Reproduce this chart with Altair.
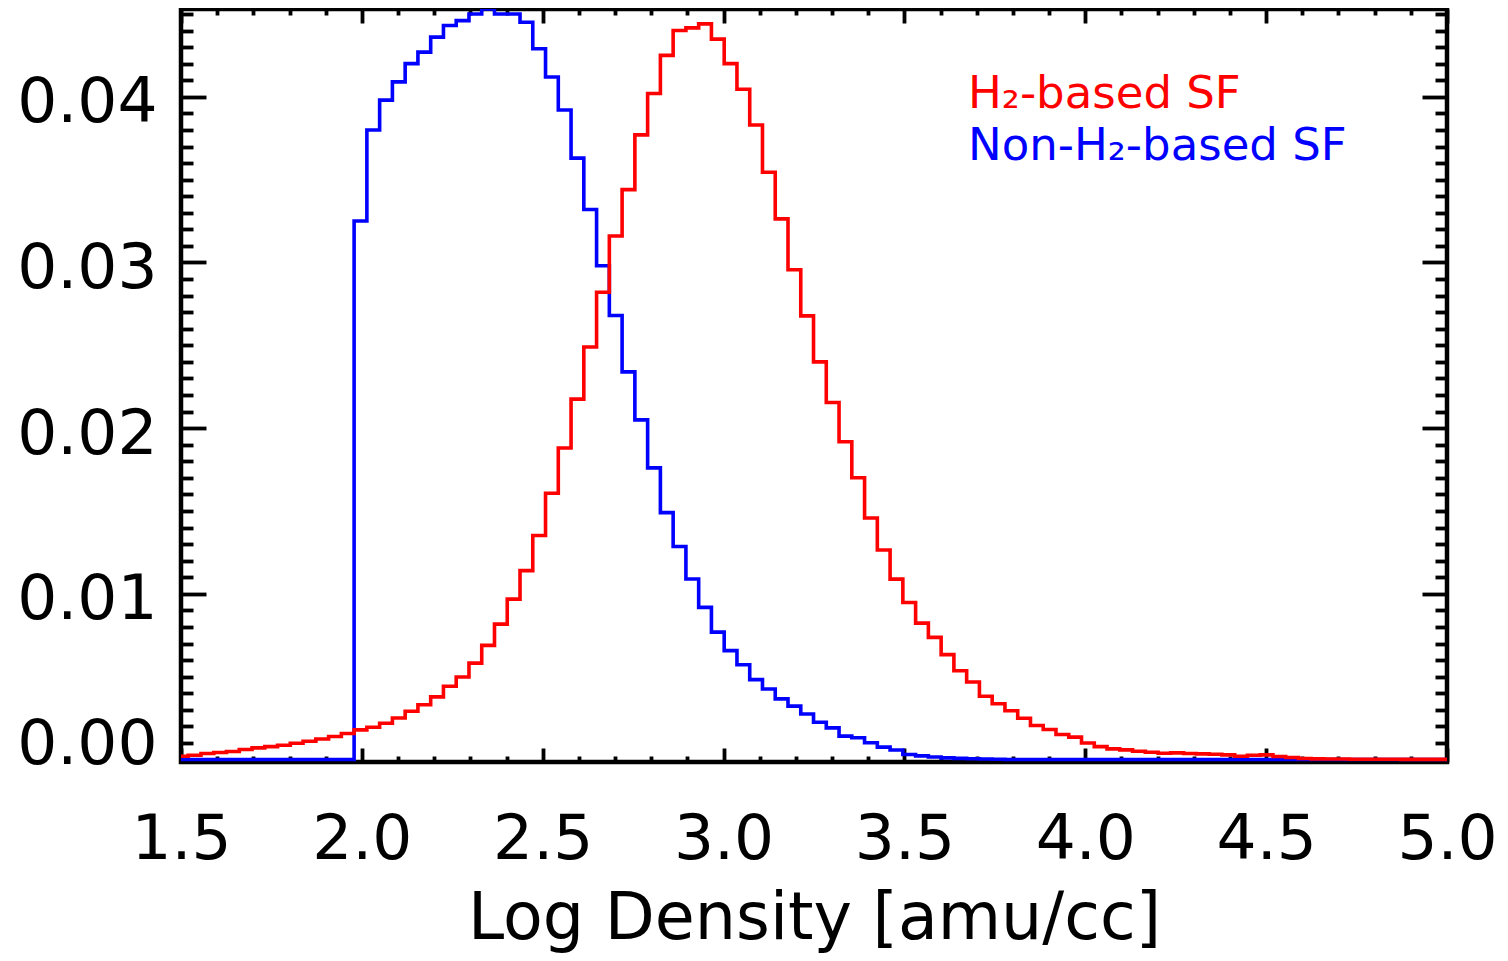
import altair as alt
import pandas as pd

# ---------------- data ----------------
# histogram bin grid (log density)
BIN_START = 1.9786      # left edge of bin index 0
BIN_WIDTH = 0.03528
X_MIN, X_MAX = 1.5, 5.0

# H2-based SF (red), bins k = -14 .. 85
red_first_bin = -14
red_vals = [
    0.00020, 0.00026, 0.00036, 0.00042, 0.00048, 0.00060, 0.00070, 0.00078, 0.00086, 0.00098,
    0.00110, 0.00124, 0.00139, 0.00157,
    0.00179, 0.00195, 0.00219, 0.00251, 0.00291, 0.00331, 0.00378, 0.00442, 0.00498, 0.00582,
    0.00689, 0.00817, 0.00968, 0.01140, 0.01352, 0.01607, 0.01880, 0.02175, 0.02490, 0.02820,
    0.03160, 0.03440, 0.03770, 0.04020, 0.04250, 0.04400, 0.04416, 0.04440, 0.04348, 0.04200,
    0.04046, 0.03830, 0.03545, 0.03263, 0.02956, 0.02678, 0.02400, 0.02155, 0.01918, 0.01701,
    0.01458, 0.01265, 0.01089, 0.00948, 0.00823, 0.00737, 0.00633, 0.00536, 0.00468, 0.00382,
    0.00337, 0.00294, 0.00249, 0.00205, 0.00181, 0.00151, 0.00135, 0.00100, 0.00078, 0.00064,
    0.00058, 0.00050, 0.00044, 0.00038, 0.00040, 0.00036, 0.00034, 0.00032, 0.00028, 0.00020,
    0.00026, 0.00028, 0.00018, 0.00012, 0.00006, 0.00004, 0.00003, 0.00003, 0.00002, 0.00002,
    0.00002, 0.00002, 0.00001, 0.00001, 0.00001, 0.00001,
]

# Non-H2-based SF (blue), bins k = 0 .. 50
blue_vals = [
    0.03250, 0.03800, 0.03980, 0.04090, 0.04200, 0.04270, 0.04360, 0.04430, 0.04460, 0.04500,
    0.04530, 0.04500, 0.04500, 0.04450, 0.04290, 0.04120, 0.03920, 0.03630, 0.03320, 0.02980,
    0.02680, 0.02340, 0.02050, 0.01760, 0.01490, 0.01286, 0.01090, 0.00918, 0.00769, 0.00657,
    0.00572, 0.00482, 0.00426, 0.00366, 0.00322, 0.00275, 0.00225, 0.00191, 0.00141, 0.00131,
    0.00101, 0.00075, 0.00057, 0.00030, 0.00022, 0.00015, 0.00010, 0.00007, 0.00005, 0.00003,
    0.00002,
]

legend_labels = ["H\u2082-based SF", "Non-H\u2082-based SF"]
series_colors = ["#FF0000", "#0000FF"]

x_major = [1.5, 2.0, 2.5, 3.0, 3.5, 4.0, 4.5, 5.0]
x_minor = [round(1.5 + 0.1 * i, 2) for i in range(36) if i % 5 != 0]
y_major = [0.00, 0.01, 0.02, 0.03, 0.04]
y_minor = [round(0.001 * i, 4) for i in range(1, 46) if i % 10 != 0]

# ---------------- tables ----------------
def edge(k):
    return BIN_START + BIN_WIDTH * k

red_x = [edge(red_first_bin + i) for i in range(len(red_vals) + 1)]
red_y = red_vals + [red_vals[-1]]
red_df = pd.DataFrame({"x": red_x, "y": red_y})

blue_x = [X_MIN] + [edge(i) for i in range(len(blue_vals) + 1)] + [X_MAX]
blue_y = [0.0] + blue_vals + [0.0, 0.0]
blue_df = pd.DataFrame({"x": blue_x, "y": blue_y})

# ---------------- layout ----------------
W, H = 1266, 753
FONT = "DejaVu Sans"
xs = alt.Scale(domain=[X_MIN, X_MAX], nice=False, zero=False)
ys = alt.Scale(domain=[-0.00015, 0.0453], nice=False, zero=False)

main_x_axis = alt.Axis(
    orient="bottom", values=x_major, format=".1f", ticks=False, tickSize=0, domain=False,
    grid=False, labelFont=FONT, labelFontSize=63, labelColor="black", labelPadding=46,
    labelFlush=False, labelOverlap=False, labelBound=False,
    title="Log Density [amu/cc]", titleFont=FONT, titleFontSize=65, titleFontWeight="normal",
    titleColor="black", titlePadding=16,
)
main_y_axis = alt.Axis(
    orient="left", values=y_major, format=".2f", ticks=False, tickSize=0, domain=False,
    grid=False, labelFont=FONT, labelFontSize=63, labelColor="black", labelPadding=24,
    labelBaseline="middle", labelFlush=False, labelOverlap=False, labelBound=False,
    labelOffset={"condition": {"test": "datum.value === 0", "value": -15}, "value": 6},
    title=None,
)

blue_line = alt.Chart(blue_df).mark_line(
    interpolate="step-after", color=series_colors[1], strokeWidth=3.6, clip=True
).encode(
    x=alt.X("x:Q", scale=xs, axis=main_x_axis),
    y=alt.Y("y:Q", scale=ys, axis=main_y_axis),
)

red_line = alt.Chart(red_df).mark_line(
    interpolate="step-after", color=series_colors[0], strokeWidth=3.6, clip=True
).encode(
    x=alt.X("x:Q", scale=xs, axis=None),
    y=alt.Y("y:Q", scale=ys, axis=None),
)


def tick_layer(x_orient, y_orient, xvals, yvals, xlen, ylen):
    xa = alt.Axis(orient=x_orient, offset=-H, values=xvals, labels=False, domain=False,
                  grid=False, ticks=True, tickSize=xlen, tickWidth=3.8, tickColor="black",
                  title=None)
    ya = alt.Axis(orient=y_orient, offset=-W, values=yvals, labels=False, domain=False,
                  grid=False, ticks=True, tickSize=ylen, tickWidth=3.8, tickColor="black",
                  title=None)
    return alt.Chart(blue_df).mark_line(strokeOpacity=0).encode(
        x=alt.X("x:Q", scale=xs, axis=xa),
        y=alt.Y("y:Q", scale=ys, axis=ya),
    )


ticks_a = tick_layer("top", "right", x_major, y_major, 14, 25)      # bottom & left, major
ticks_b = tick_layer("top", "right", x_minor, y_minor, 6, 12)       # bottom & left, minor
ticks_c = tick_layer("bottom", "left", x_major, y_major, 14, 25)    # top & right, major
ticks_d = tick_layer("bottom", "left", x_minor, y_minor, 6, 12)     # top & right, minor


def legend_text(i, ypix):
    return alt.Chart(pd.DataFrame({"label": [legend_labels[i]]})).mark_text(
        align="left", baseline="alphabetic", font=FONT, fontSize=45,
        color=series_colors[i],
    ).encode(x=alt.value(787), y=alt.value(ypix), text="label:N")


chart = alt.layer(
    ticks_a, ticks_b, ticks_c, ticks_d, blue_line, red_line,
    legend_text(0, 99), legend_text(1, 151),
).resolve_axis(
    x="independent", y="independent"
).properties(
    width=W, height=H,
    padding={"left": 173, "top": 1, "right": 53, "bottom": 196},
    autosize=alt.AutoSizeParams(type="none"),
    background="white",
).configure_view(
    stroke="black", strokeWidth=4.5
)

chart.save("out.html", embed_options={"renderer": "svg", "actions": False})
